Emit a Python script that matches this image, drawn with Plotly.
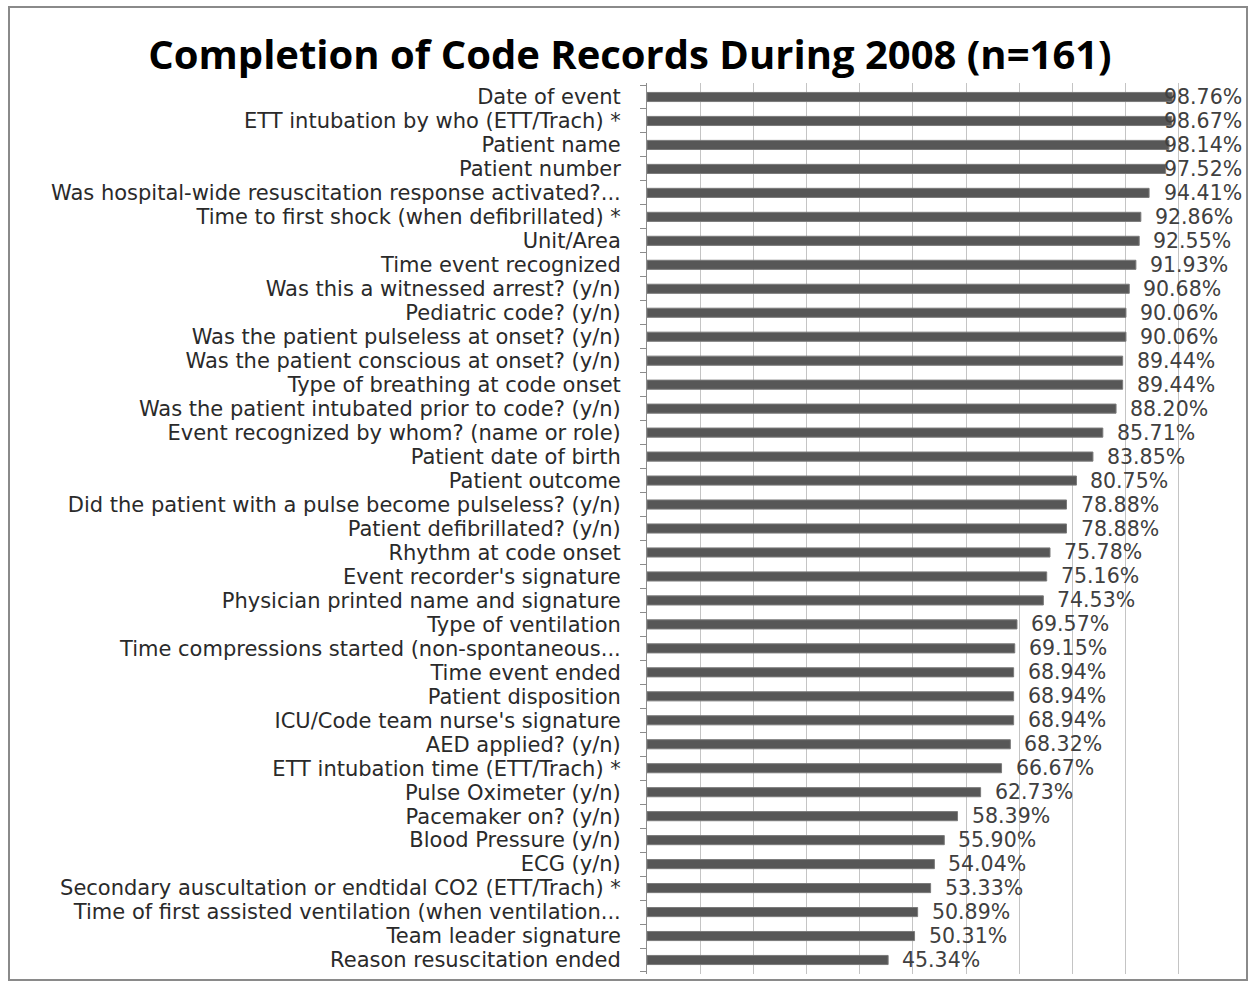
import plotly.graph_objects as go

categories = [
    "Date of event",
    "ETT intubation by who (ETT/Trach) *",
    "Patient name",
    "Patient number",
    "Was hospital-wide resuscitation response activated?...",
    "Time to first shock (when defibrillated) *",
    "Unit/Area",
    "Time event recognized",
    "Was this a witnessed arrest? (y/n)",
    "Pediatric code? (y/n)",
    "Was the patient pulseless at onset? (y/n)",
    "Was the patient conscious at onset? (y/n)",
    "Type of breathing at code onset",
    "Was the patient intubated prior to code? (y/n)",
    "Event recognized by whom? (name or role)",
    "Patient date of birth",
    "Patient outcome",
    "Did the patient with a pulse become pulseless? (y/n)",
    "Patient defibrillated? (y/n)",
    "Rhythm at code onset",
    "Event recorder's signature",
    "Physician printed name and signature",
    "Type of ventilation",
    "Time compressions started (non-spontaneous...",
    "Time event ended",
    "Patient disposition",
    "ICU/Code team nurse's signature",
    "AED applied? (y/n)",
    "ETT intubation time (ETT/Trach) *",
    "Pulse Oximeter (y/n)",
    "Pacemaker on? (y/n)",
    "Blood Pressure (y/n)",
    "ECG (y/n)",
    "Secondary auscultation or endtidal CO2 (ETT/Trach) *",
    "Time of first assisted ventilation (when ventilation...",
    "Team leader signature",
    "Reason resuscitation ended",
]

completion_pct = [
    98.76, 98.67, 98.14, 97.52, 94.41, 92.86, 92.55, 91.93, 90.68, 90.06,
    90.06, 89.44, 89.44, 88.20, 85.71, 83.85, 80.75, 78.88, 78.88, 75.78,
    75.16, 74.53, 69.57, 69.15, 68.94, 68.94, 68.94, 68.32, 66.67, 62.73,
    58.39, 55.90, 54.04, 53.33, 50.89, 50.31, 45.34,
]

title_text = "Completion of Code Records During 2008 (n=161)"

W, H = 1253, 984
ml, mr, mt, mb = 647, 21, 83, 10
pw, ph = W - ml - mr, H - mt - mb
X_MAX = 110
LABEL_FONT = dict(family="DejaVu Sans", size=20.5, color="#404040")

fig = go.Figure(
    go.Bar(
        x=completion_pct,
        y=categories,
        orientation="h",
        marker=dict(color="#575757", line=dict(color="#7a7a7a", width=1)),
        width=0.38,
        hoverinfo="x+y",
    )
)

# Data labels: placed just right of each bar end; like the original chart,
# labels that would run past the chart edge are pulled back inside it.
annotations = []
label_px = 82
for cat, v in zip(categories, completion_pct):
    end_px = v / X_MAX * pw + 14 + label_px
    if end_px > pw + 11:
        annotations.append(dict(
            x=X_MAX, y=cat, xref="x", yref="y", text=f"{v:.2f}%",
            showarrow=False, xanchor="right", xshift=12, font=LABEL_FONT,
        ))
    else:
        annotations.append(dict(
            x=v, y=cat, xref="x", yref="y", text=f"{v:.2f}%",
            showarrow=False, xanchor="left", xshift=12, font=LABEL_FONT,
        ))

fig.update_layout(
    width=W,
    height=H,
    margin=dict(l=ml, r=mr, t=mt, b=mb),
    paper_bgcolor="white",
    plot_bgcolor="white",
    showlegend=False,
    title=dict(
        text="<b>" + title_text + "</b>",
        x=630 / W,
        xanchor="center",
        y=1 - 55 / H,
        yanchor="middle",
        font=dict(family="Open Sans", size=40, color="black"),
    ),
    xaxis=dict(
        range=[0, X_MAX],
        dtick=10,
        showgrid=True,
        gridcolor="#c4c4c4",
        gridwidth=1,
        showticklabels=False,
        zeroline=False,
        showline=False,
        fixedrange=True,
    ),
    yaxis=dict(
        autorange="reversed",
        type="category",
        tickmode="array",
        tickvals=categories,
        ticktext=categories,
        showline=True,
        linecolor="#8c8c8c",
        linewidth=1,
        ticks="outside",
        tickson="boundaries",
        ticklen=6,
        tickcolor="#8c8c8c",
        ticklabelstandoff=21,
        tickfont=dict(family="DejaVu Sans", size=21, color="#2a2a2a"),
        showgrid=False,
    ),
    bargap=0.62,
    annotations=annotations,
    shapes=[
        dict(
            type="rect",
            xref="paper",
            yref="paper",
            x0=(9 - ml) / pw,
            x1=(1247 - ml) / pw,
            y0=1 - (980 - mt) / ph,
            y1=1 - (7 - mt) / ph,
            line=dict(color="#8a8a8a", width=2),
            fillcolor="rgba(0,0,0,0)",
            layer="below",
        )
    ],
)

fig.write_html(
    "out.html",
    config={"displayModeBar": False},
    post_script="document.body.style.margin='0px';document.body.style.overflow='hidden';",
)
